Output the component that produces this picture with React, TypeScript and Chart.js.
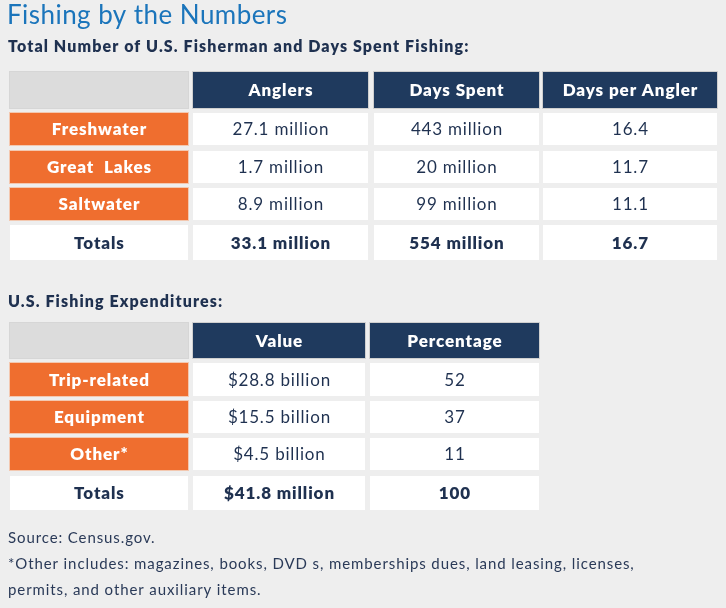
import React, { useEffect, useRef } from "react";
import { Chart, registerables } from "chart.js";

Chart.register(...registerables);

// ---------- data ----------
const titleText = "Fishing by the Numbers";
const table1Title = "Total Number of U.S. Fisherman and Days Spent Fishing:";
const table1Columns = ["Anglers", "Days Spent", "Days per Angler"];
const table1Categories = ["Freshwater", "Great  Lakes", "Saltwater"];
const anglersMillions = [27.1, 1.7, 8.9];
const daysSpentMillions = [443, 20, 99];
const daysPerAngler = [16.4, 11.7, 11.1];
const table1Totals = [33.1, 554, 16.7];

const table2Title = "U.S. Fishing Expenditures:";
const table2Columns = ["Value", "Percentage"];
const table2Categories = ["Trip-related", "Equipment", "Other*"];
const expenditureBillions = [28.8, 15.5, 4.5];
const expenditurePercent = [52, 37, 11];
const table2TotalValue = "$41.8 million";
const table2TotalPercent = 100;

const totalsLabel = "Totals";
const footnotes = [
  "Source: Census.gov.",
  "*Other includes: magazines, books, DVD s, memberships dues, land leasing, licenses,",
  "permits, and other auxiliary items.",
];

// ---------- layout (in scale units = px) ----------
const W = 726;
const H = 608;
const FONT = "Lato, 'Open Sans', sans-serif";
const NAVY = "#1f3a5e";
const TEXT = "#1f3150";
const ORANGE = "#ef6e2f";
const GREY_CELL = "#dcdcdc";
const BG = "#eeeeee";

const t1Cols: [number, number][] = [[10, 188], [193, 368], [374, 539], [543, 717]];
const t1Rows: [number, number][] = [[72, 108], [113, 145], [151, 183], [188, 220], [225, 260]];
const t2Cols: [number, number][] = [[10, 188], [193, 365], [370, 539]];
const t2Rows: [number, number][] = [[323, 358], [363, 396], [401, 433], [438, 470], [476, 510]];

function fmtMillion(v: number) {
  return `${v} million`;
}
function fmtBillion(v: number) {
  return `$${v.toFixed(1)} billion`;
}

const tablePlugin = {
  id: "tablePlugin",
  beforeDraw(chart: any) {
    const { ctx } = chart;
    const xs = chart.scales.x;
    const ys = chart.scales.y;
    const px = (v: number) => xs.getPixelForValue(v);
    const py = (v: number) => ys.getPixelForValue(v);

    ctx.save();
    ctx.fillStyle = BG;
    ctx.fillRect(px(0), py(0), px(W) - px(0), py(H) - py(0));

    const rect = (c: [number, number], r: [number, number], fill: string, stroke?: string) => {
      const x0 = px(c[0]), x1 = px(c[1]);
      const y0 = py(r[0]), y1 = py(r[1]);
      ctx.fillStyle = fill;
      ctx.fillRect(x0, y0, x1 - x0, y1 - y0);
      if (stroke) {
        ctx.strokeStyle = stroke;
        ctx.lineWidth = 1;
        ctx.strokeRect(x0 - 0.5, y0 - 0.5, x1 - x0 + 1, y1 - y0 + 1);
      }
    };
    const setSpacing = (sp: number) => {
      (ctx as any).letterSpacing = `${sp}px`;
    };
    const text = (
      s: string,
      c: [number, number],
      r: [number, number],
      font: string,
      color: string,
      sp: number
    ) => {
      ctx.font = font;
      setSpacing(sp);
      ctx.fillStyle = color;
      ctx.textAlign = "center";
      ctx.textBaseline = "middle";
      ctx.fillText(s, (px(c[0]) + px(c[1])) / 2 + sp / 2, (py(r[0]) + py(r[1])) / 2 + 1);
    };
    const left = (s: string, x: number, y: number, font: string, color: string, sp: number) => {
      ctx.font = font;
      setSpacing(sp);
      ctx.fillStyle = color;
      ctx.textAlign = "left";
      ctx.textBaseline = "middle";
      ctx.fillText(s, px(x), py(y));
    };

    const headFont = `800 17px ${FONT}`;
    const labelFont = `800 17px ${FONT}`;
    const cellFont = `17px ${FONT}`;
    const totalFont = `800 17px ${FONT}`;
    const BSP = 0.9;
    const RSP = 0.8;

    // titles
    left(titleText, 7, 16, `26px ${FONT}`, "#1b75bb", 0.45);
    left(table1Title, 8, 47, `800 16px ${FONT}`, TEXT, 1.1);

    // table 1
    rect(t1Cols[0], t1Rows[0], GREY_CELL, "#d6d6d6");
    table1Columns.forEach((h, i) => {
      rect(t1Cols[i + 1], t1Rows[0], NAVY, "#cfcfcf");
      text(h, t1Cols[i + 1], t1Rows[0], headFont, "#ffffff", BSP);
    });
    const t1Vals = [
      anglersMillions.map(fmtMillion),
      daysSpentMillions.map(fmtMillion),
      daysPerAngler.map((v) => v.toFixed(1)),
    ];
    table1Categories.forEach((cat, r) => {
      const row = t1Rows[r + 1];
      rect(t1Cols[0], row, ORANGE, "#f3c8b0");
      text(cat, t1Cols[0], row, labelFont, "#ffffff", BSP);
      t1Vals.forEach((col, c) => {
        rect(t1Cols[c + 1], row, "#ffffff");
        text(col[r], t1Cols[c + 1], row, cellFont, TEXT, RSP);
      });
    });
    const totRow1 = t1Rows[4];
    rect(t1Cols[0], totRow1, "#ffffff");
    text(totalsLabel, t1Cols[0], totRow1, totalFont, TEXT, BSP);
    const t1TotStr = [fmtMillion(table1Totals[0]), fmtMillion(table1Totals[1]), table1Totals[2].toFixed(1)];
    t1TotStr.forEach((s, c) => {
      rect(t1Cols[c + 1], totRow1, "#ffffff");
      text(s, t1Cols[c + 1], totRow1, totalFont, TEXT, BSP);
    });

    // table 2
    left(table2Title, 8, 302, `800 16px ${FONT}`, TEXT, 1.1);
    rect(t2Cols[0], t2Rows[0], GREY_CELL, "#d6d6d6");
    table2Columns.forEach((h, i) => {
      rect(t2Cols[i + 1], t2Rows[0], NAVY, "#cfcfcf");
      text(h, t2Cols[i + 1], t2Rows[0], headFont, "#ffffff", BSP);
    });
    const t2Vals = [expenditureBillions.map(fmtBillion), expenditurePercent.map((v) => String(v))];
    table2Categories.forEach((cat, r) => {
      const row = t2Rows[r + 1];
      rect(t2Cols[0], row, ORANGE, "#f3c8b0");
      text(cat, t2Cols[0], row, labelFont, "#ffffff", BSP);
      t2Vals.forEach((col, c) => {
        rect(t2Cols[c + 1], row, "#ffffff");
        text(col[r], t2Cols[c + 1], row, cellFont, TEXT, RSP);
      });
    });
    const totRow2 = t2Rows[4];
    rect(t2Cols[0], totRow2, "#ffffff");
    text(totalsLabel, t2Cols[0], totRow2, totalFont, TEXT, BSP);
    rect(t2Cols[1], totRow2, "#ffffff");
    text(table2TotalValue, t2Cols[1], totRow2, totalFont, TEXT, BSP);
    rect(t2Cols[2], totRow2, "#ffffff");
    text(String(table2TotalPercent), t2Cols[2], totRow2, totalFont, TEXT, BSP);

    // footnotes
    const footY = [538, 564, 590];
    footnotes.forEach((s, i) => left(s, 8, footY[i], `15px ${FONT}`, "#2a3a58", 0.9));

    ctx.restore();
  },
};

export default function App() {
  const ref = useRef<HTMLCanvasElement | null>(null);
  useEffect(() => {
    if (!ref.current) return;
    const chart = new Chart(ref.current, {
      type: "scatter",
      data: { datasets: [{ data: [], pointRadius: 0 }] },
      options: {
        animation: false,
        responsive: false,
        devicePixelRatio: 1,
        layout: { padding: 0 },
        events: [],
        plugins: { legend: { display: false }, tooltip: { enabled: false }, title: { display: false } },
        scales: {
          x: { type: "linear", min: 0, max: W, display: false },
          y: { type: "linear", min: 0, max: H, reverse: true, display: false },
        },
      },
      plugins: [tablePlugin],
    });
    return () => chart.destroy();
  }, []);
  return (
    <div style={{ position: "absolute", left: 0, top: 0, width: W, height: H, background: BG }}>
      <canvas ref={ref} width={W} height={H} style={{ width: W, height: H, display: "block" }} />
    </div>
  );
}
